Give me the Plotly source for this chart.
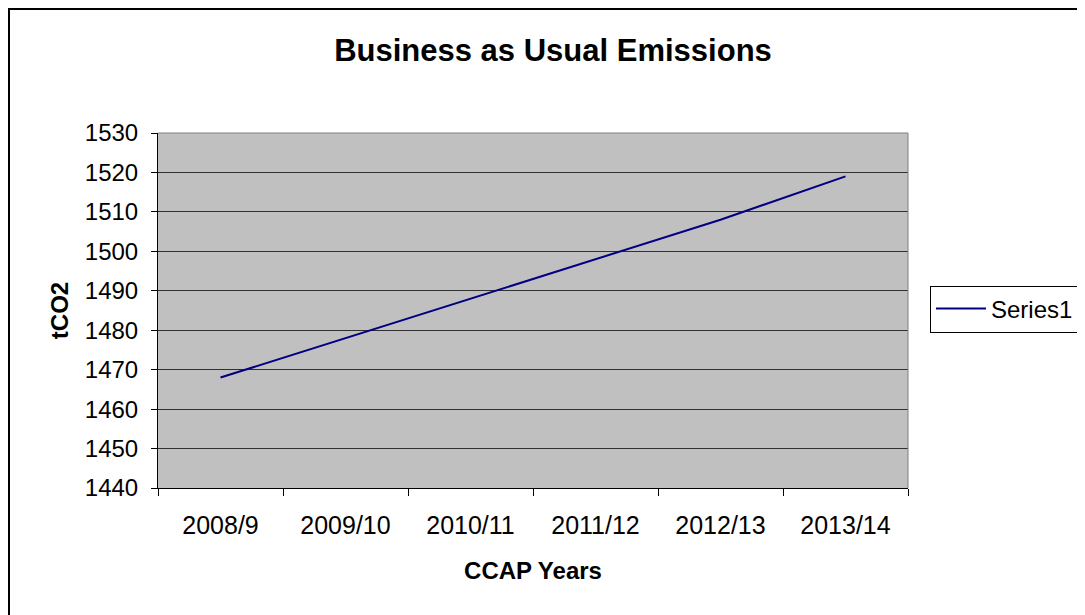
import plotly.graph_objects as go

categories = ["2008/9", "2009/10", "2010/11", "2011/12", "2012/13", "2013/14"]
series1 = [1468, 1478, 1488, 1498, 1508, 1519]
y_ticks = [1440, 1450, 1460, 1470, 1480, 1490, 1500, 1510, 1520, 1530]

# figure is placed at (8, 8) on the page (body margin); coordinates below are figure pixels
W, H = 1085, 615
L, R, T, B = 150, 900, 125, 480
pw, ph = R - L, B - T

def px_x(x):
    return (x - L) / pw

def px_y(y):
    return (B - y) / ph

font = "Liberation Sans, Arial, sans-serif"

fig = go.Figure()
fig.add_trace(go.Scatter(
    x=categories, y=series1, mode="lines", name="Series1",
    line=dict(color="#000080", width=2),
))

fig.update_layout(
    width=W, height=H,
    margin=dict(l=L, r=W - R, t=T, b=H - B, pad=0),
    paper_bgcolor="white",
    plot_bgcolor="#C0C0C0",
    font=dict(family=font, size=24, color="black"),
    title=dict(text="<b>Business as Usual Emissions</b>", x=545 / W, xref="container",
               xanchor="center", y=1 - 42 / H, yref="container", yanchor="middle",
               font=dict(size=31, family=font, color="black")),
    showlegend=True,
    legend=dict(x=px_x(922), y=px_y(301), xanchor="left", yanchor="middle",
                bordercolor="black", borderwidth=1, bgcolor="white",
                font=dict(size=24, family=font, color="black"),
                itemwidth=50, tracegroupgap=0, entrywidth=200),
    xaxis=dict(
        type="category", range=[-0.5, 5.5], tickson="boundaries",
        ticks="outside", ticklen=7, tickcolor="black", tickwidth=1,
        showline=True, linecolor="black", linewidth=1,
        showgrid=False, zeroline=False,
        tickfont=dict(size=25, family=font, color="black"),
        ticklabelstandoff=15,
        title=dict(text="<b>CCAP Years</b>", standoff=24,
                   font=dict(size=24, family=font, color="black")),
        fixedrange=True,
    ),
    yaxis=dict(
        range=[1440, 1530], tickvals=y_ticks,
        ticks="outside", ticklen=6, tickcolor="black", tickwidth=1,
        showline=True, linecolor="black", linewidth=1,
        showgrid=True, gridcolor="#303030", gridwidth=1,
        zeroline=False,
        tickfont=dict(size=24, family=font, color="black"),
        ticklabelstandoff=8,
        title=dict(text="<b>tCO2</b>", standoff=9,
                   font=dict(size=24, family=font, color="black")),
        fixedrange=True,
    ),
)

# plot-area top and right border (gray)
fig.add_shape(type="line", xref="paper", yref="paper", x0=0, x1=1, y0=1, y1=1,
              line=dict(color="#808080", width=1))
fig.add_shape(type="line", xref="paper", yref="paper", x0=1, x1=1, y0=0, y1=1,
              line=dict(color="#808080", width=1))
# outer chart border (extends beyond the visible frame at right/bottom)
fig.add_shape(type="rect", xref="paper", yref="paper",
              x0=px_x(1), x1=px_x(W + 50), y0=px_y(H + 50), y1=px_y(1),
              line=dict(color="black", width=2), fillcolor="rgba(0,0,0,0)", layer="below")

fig.write_html("out.html", config={"displayModeBar": False})
